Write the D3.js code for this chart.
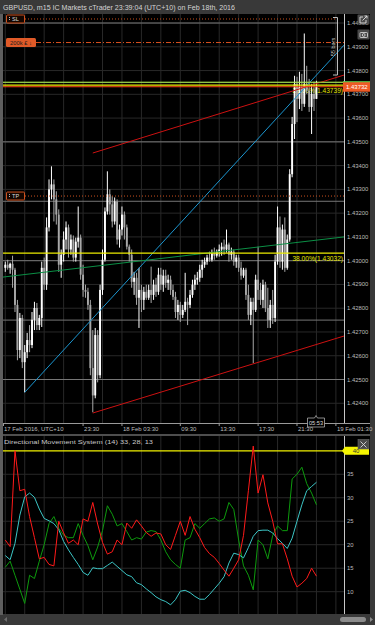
<!DOCTYPE html>
<html>
<head>
<meta charset="utf-8">
<script src="https://cdn.jsdelivr.net/npm/d3@7/dist/d3.min.js"></script>
<style>
  html, body { margin: 0; padding: 0; background: #393939; }
  svg { display: block; }
  text { font-family: "Liberation Sans", Arial, sans-serif; }
</style>
</head>
<body>
<svg width="375" height="625"></svg>
<script>
// ---- values (15 min bars from 17 Feb 15:30) ----
const open = [
  1.42970,1.42983,1.42970,1.42987,1.42962,1.42814,1.42624,1.42759,1.42573,1.42615,
  1.42666,1.42645,1.42751,1.42801,1.42729,1.42759,1.42970,1.42899,1.43140,1.43300,
  1.43321,1.43258,1.43194,1.42983,1.43025,1.43089,1.43140,1.43047,1.43089,1.43013,
  1.43080,1.43097,1.42941,1.42877,1.42869,1.42814,1.42548,1.42433,1.42687,1.42518,
  1.42877,1.43004,1.43207,1.43279,1.43237,1.43165,1.43249,1.43089,1.43131,1.43194,
  1.43140,1.43059,1.43025,1.42911,1.42928,1.42844,1.42877,1.42835,1.42869,1.42844,
  1.42877,1.42856,1.42899,1.42869,1.42941,1.42899,1.42937,1.42907,1.42920,1.42877,
  1.42848,1.42784,1.42814,1.42772,1.42793,1.42827,1.42814,1.42856,1.42899,1.42920,
  1.42928,1.42962,1.42983,1.42996,1.43013,1.43004,1.43030,1.43021,1.43038,1.43047,
  1.43059,1.43047,1.43068,1.43025,1.43038,1.42996,1.43013,1.42970,1.42937,1.42962,
  1.42856,1.42772,1.42827,1.42793,1.42920,1.42877,1.42835,1.42899,1.42801,1.42751,
  1.42814,1.42759,1.42996,1.43140,1.42996,1.43131,1.42970,1.43089,1.43364,1.43575,
  1.43744,1.43681,1.43731,1.43660,1.43744,1.43715,1.43647,1.43702,1.43681];
const high = [
  1.42996,1.43004,1.42992,1.43021,1.42970,1.42835,1.42780,1.42772,1.42645,1.42696,
  1.42729,1.42784,1.42827,1.42822,1.42772,1.42996,1.43013,1.43182,1.43342,1.43397,
  1.43342,1.43292,1.43216,1.43047,1.43123,1.43165,1.43152,1.43110,1.43106,1.43097,
  1.43228,1.43110,1.42983,1.42899,1.42886,1.42835,1.42708,1.42717,1.42708,1.42899,
  1.43047,1.43224,1.43376,1.43300,1.43271,1.43266,1.43258,1.43152,1.43228,1.43207,
  1.43152,1.43068,1.43047,1.42953,1.42949,1.42970,1.42899,1.42890,1.42899,1.42899,
  1.42975,1.42920,1.42928,1.42970,1.42970,1.42962,1.42962,1.42941,1.42937,1.42899,
  1.42869,1.42835,1.42827,1.42814,1.42949,1.42844,1.42877,1.42920,1.42941,1.42953,
  1.42983,1.43004,1.43013,1.43025,1.43038,1.43047,1.43055,1.43047,1.43068,1.43076,
  1.43089,1.43131,1.43076,1.43055,1.43047,1.43025,1.43025,1.42996,1.42970,1.42970,
  1.42899,1.42844,1.42844,1.42941,1.43059,1.42907,1.42920,1.42911,1.42886,1.42835,
  1.42877,1.43025,1.43228,1.43186,1.43152,1.43182,1.43110,1.43385,1.43605,1.43778,
  1.43774,1.43795,1.43786,1.43956,1.43820,1.43765,1.43744,1.43753,1.43757];
const low = [
  1.42953,1.42962,1.42945,1.42886,1.42784,1.42581,1.42590,1.42548,1.42446,1.42590,
  1.42615,1.42632,1.42708,1.42708,1.42708,1.42721,1.42877,1.42877,1.43123,1.43258,
  1.43165,1.43152,1.42953,1.42928,1.42996,1.43047,1.43013,1.43025,1.42996,1.42996,
  1.43055,1.42920,1.42848,1.42844,1.42793,1.42518,1.42362,1.42421,1.42488,1.42505,
  1.42856,1.42996,1.43194,1.43194,1.43140,1.43152,1.43068,1.43055,1.43106,1.43089,
  1.43047,1.42996,1.42886,1.42856,1.42814,1.42717,1.42784,1.42793,1.42835,1.42835,
  1.42822,1.42835,1.42848,1.42856,1.42877,1.42869,1.42886,1.42877,1.42856,1.42835,
  1.42759,1.42751,1.42742,1.42759,1.42784,1.42729,1.42801,1.42844,1.42877,1.42899,
  1.42911,1.42928,1.42970,1.42983,1.42996,1.42996,1.43004,1.43013,1.43017,1.43021,
  1.43025,1.43034,1.42996,1.43004,1.42979,1.42970,1.42953,1.42920,1.42928,1.42835,
  1.42751,1.42729,1.42569,1.42784,1.42835,1.42814,1.42801,1.42784,1.42717,1.42717,
  1.42734,1.42742,1.42983,1.42970,1.42962,1.42953,1.42962,1.43080,1.43351,1.43512,
  1.43583,1.43638,1.43630,1.43647,1.43702,1.43626,1.43533,1.43630,1.43681];
const close = [
  1.42983,1.42970,1.42987,1.42962,1.42814,1.42624,1.42759,1.42573,1.42615,1.42666,
  1.42645,1.42751,1.42801,1.42729,1.42759,1.42970,1.42899,1.43140,1.43300,1.43321,
  1.43258,1.43194,1.42983,1.43025,1.43089,1.43140,1.43047,1.43089,1.43013,1.43080,
  1.43097,1.42941,1.42877,1.42869,1.42814,1.42548,1.42433,1.42687,1.42518,1.42877,
  1.43004,1.43207,1.43279,1.43237,1.43165,1.43249,1.43089,1.43131,1.43194,1.43140,
  1.43059,1.43025,1.42911,1.42928,1.42844,1.42877,1.42835,1.42869,1.42844,1.42877,
  1.42856,1.42899,1.42869,1.42941,1.42899,1.42937,1.42907,1.42920,1.42877,1.42848,
  1.42784,1.42814,1.42772,1.42793,1.42827,1.42814,1.42856,1.42899,1.42920,1.42928,
  1.42962,1.42983,1.42996,1.43013,1.43004,1.43030,1.43021,1.43038,1.43047,1.43059,
  1.43047,1.43068,1.43025,1.43038,1.42996,1.43013,1.42970,1.42937,1.42962,1.42856,
  1.42772,1.42827,1.42793,1.42920,1.42877,1.42835,1.42899,1.42801,1.42751,1.42814,
  1.42759,1.42996,1.43140,1.42996,1.43131,1.42970,1.43089,1.43364,1.43575,1.43744,
  1.43681,1.43731,1.43660,1.43744,1.43715,1.43647,1.43702,1.43681,1.43732];

// Directional Movement System (14), one reading every second bar
const adx = [17.7,16.8,20.3,26.3,30.2,31,30.1,27.6,25.6,25.1,24.5,23.2,20.7,18.9,17.3,15.8,14.1,13.5,15.1,14.9,
  14.9,15.6,16.3,15.4,14.5,13.6,13.2,11.9,11.5,10.6,9.8,8.9,8.3,7.9,7.2,8.3,10.1,10.3,9.8,9.0,
  8.4,8.4,9.4,10.6,11.8,13.2,16.1,18.2,17.9,17.2,19.4,21.8,23.0,23.1,23.1,22.5,21.3,20.3,19.2,21.4,
  25,28.5,31.5,32.4,33.3];
const diPlus = [15.2,16.5,13.5,10.5,7.5,13.5,12.8,16.5,20,24.5,26,23.5,22,21.5,21.5,24.5,22,19.8,16.8,19.5,
  23,28.3,26.5,24,24.5,22.8,21,21.5,21.2,22.7,23,22.8,21,18.5,16.8,15.8,15,21,21.5,24.5,
  23.5,24.5,25.5,25.7,25,25.5,29,27.5,21,15.5,13.5,10.4,21,20,17,22,24,23,23,34,
  35,36.5,33,31,28.5];
const diMinus = [21,19.6,40,31.5,31.8,26,21.5,17,17.3,15.8,15.5,25,22.5,20.3,21,20,25.5,25,29,24.4,
  20.5,18,18.5,21,20,24.6,23.5,25.3,24,22.6,21.8,22.5,22.3,20,19,22,25,22,26,23.3,
  21.5,19.4,18.1,17.3,16,14.6,13.3,15,16.8,22,31.5,41,31,34.9,28.9,25,20.2,20.2,17,13.3,
  11,11.8,12.8,15,13.3];

const priceTicks = [1.424,1.425,1.426,1.427,1.428,1.429,1.430,1.431,1.432,1.433,1.434,1.435,1.436,1.437,1.438,1.439,1.440];
const levelLines = [1.44, 1.4375, 1.435, 1.4325, 1.43, 1.4275, 1.425];
const dmsTicks = [10, 15, 20, 25, 30, 35];
const timeLabels = [
  {t: "2016-02-17T23:30", label: "23:30"},
  {t: "2016-02-18T03:30", label: "18 Feb 03:30"},
  {t: "2016-02-18T09:30", label: "09:30"},
  {t: "2016-02-18T13:30", label: "13:30"},
  {t: "2016-02-18T17:30", label: "17:30"},
  {t: "2016-02-18T21:30", label: "21:30"},
  {t: "2016-02-19T01:30", label: "19 Feb 01:30"}
];
const trendLines = [
  {id: "blue",   t1: "2016-02-17T17:30", p1: 1.42446, t2: "2016-02-19T02:20", p2: 1.43907},
  {id: "redTop", t1: "2016-02-18T00:30", p1: 1.43453, t2: "2016-02-19T02:20", p2: 1.43781},
  {id: "redLow", t1: "2016-02-18T00:30", p1: 1.42359, t2: "2016-02-19T02:20", p2: 1.42683},
  {id: "green",  t1: "2016-02-17T15:16", p1: 1.42931, t2: "2016-02-19T02:20", p2: 1.43100}
];
const fibLevels = [{pct: "23.60%", price: 1.43739}, {pct: "38.00%", price: 1.43032}];
const stopLoss = 1.44017, takeProfit = 1.43272, orderPrice = 1.43918;
const ask = 1.43751, bid = 1.43732, dmsLevel = 40;

const trendColor = {blue: "#1b95cf", redTop: "#cc1111", redLow: "#cc1111", green: "#0b8f45"};

// ---- setup ----
const svg = d3.select("svg");
const parse = d3.utcParse("%Y-%m-%dT%H:%M");
const firstBar = parse("2016-02-17T15:30").getTime();
const barMs = 15 * 60 * 1000;
const bars = close.map((c, i) => ({t: new Date(firstBar + i * barMs), o: open[i], h: high[i], l: low[i], c}));

const x = d3.scaleUtc().domain([parse("2016-02-17T15:16"), parse("2016-02-19T02:20")]).range([3, 344]);
const y = d3.scaleLinear().domain([1.42317, 1.44038]).range([423, 14]);
const yD = d3.scaleLinear().domain([5.25, 43.15]).range([614, 436]);
const gridTimes = d3.range(18).map(k => new Date(firstBar + k * 8 * barMs));

svg.append("rect").attr("width", 375).attr("height", 625).attr("fill", "#393939");
svg.append("rect").attr("x", 0).attr("y", 14).attr("width", 3).attr("height", 601).attr("fill", "#5e5e5e");
svg.append("rect").attr("x", 3).attr("y", 14).attr("width", 367).attr("height", 420).attr("fill", "#000");
svg.append("rect").attr("x", 3).attr("y", 436).attr("width", 367).attr("height", 178).attr("fill", "#000");

svg.append("text").attr("x", 3).attr("y", 9.5).attr("font-size", 6.6).attr("fill", "#d4d4d4")
  .attr("textLength", 232).attr("lengthAdjust", "spacingAndGlyphs")
  .text("GBPUSD, m15 IC Markets cTrader 23:39:04 (UTC+10) on Feb 18th, 2016");

const defs = svg.append("defs");
defs.append("clipPath").attr("id", "clipMain").append("rect").attr("x", 3).attr("y", 14).attr("width", 341).attr("height", 409);
defs.append("clipPath").attr("id", "clipDms").append("rect").attr("x", 3).attr("y", 436).attr("width", 341).attr("height", 178);

// ---- main price panel ----
const gM = svg.append("g").attr("clip-path", "url(#clipMain)");

gM.selectAll("line.vgrid").data(gridTimes).join("line")
  .attr("x1", d => x(d)).attr("x2", d => x(d)).attr("y1", 14).attr("y2", 423)
  .attr("stroke", "#282828").attr("stroke-width", 1);
gM.selectAll("line.hgrid").data(priceTicks).join("line")
  .attr("x1", 3).attr("x2", 344).attr("y1", d => y(d)).attr("y2", d => y(d))
  .attr("stroke", "#282828").attr("stroke-width", 1);
gM.selectAll("line.level").data(levelLines).join("line")
  .attr("x1", 3).attr("x2", d => d === 1.44 ? 337 : 344).attr("y1", d => y(d)).attr("y2", d => y(d))
  .attr("stroke", "#767676").attr("stroke-width", 1);

// fib labels (candles paint over them)
gM.selectAll("text.fib").data(fibLevels).join("text")
  .attr("x", 343).attr("y", d => y(d.price) + 7.5).attr("text-anchor", "end")
  .attr("font-size", 6.6).attr("fill", "#e6e600")
  .text(d => `${d.pct}(${d.price.toFixed(5)})`);

// candles
const upCol = "#ffffff", downCol = "#a8a8a8";
gM.selectAll("line.wick").data(bars).join("line")
  .attr("x1", d => x(d.t)).attr("x2", d => x(d.t))
  .attr("y1", d => y(d.h)).attr("y2", d => y(d.l))
  .attr("stroke", d => d.c >= d.o ? upCol : downCol).attr("stroke-width", 1);
gM.selectAll("rect.body").data(bars).join("rect")
  .attr("x", d => x(d.t) - 0.95).attr("width", 1.9)
  .attr("y", d => y(Math.max(d.o, d.c)))
  .attr("height", d => Math.max(1, Math.abs(y(d.o) - y(d.c))))
  .attr("fill", d => d.c >= d.o ? upCol : downCol);

// trend lines
gM.selectAll("line.trend").data(trendLines).join("line")
  .attr("x1", d => x(parse(d.t1))).attr("y1", d => y(d.p1))
  .attr("x2", d => x(parse(d.t2))).attr("y2", d => y(d.p2))
  .attr("stroke", d => trendColor[d.id]).attr("stroke-width", 1);

// fibonacci, bid/ask lines
gM.selectAll("line.fibl").data(fibLevels).join("line")
  .attr("x1", 3).attr("x2", 344).attr("y1", d => y(d.price)).attr("y2", d => y(d.price))
  .attr("stroke", "#ecec00").attr("stroke-width", 1.2);
gM.append("line").attr("x1", 3).attr("x2", 344).attr("y1", y(ask)).attr("y2", y(ask))
  .attr("stroke", "#9fe83a").attr("stroke-width", 1);
gM.append("line").attr("x1", 3).attr("x2", 344).attr("y1", y(bid)).attr("y2", y(bid))
  .attr("stroke", "#ff4a1a").attr("stroke-width", 1);

// SL / TP / order lines
gM.append("line").attr("x1", 25).attr("x2", 337).attr("y1", y(stopLoss)).attr("y2", y(stopLoss))
  .attr("stroke", "#c8501e").attr("stroke-dasharray", "1,2");
gM.append("line").attr("x1", 25).attr("x2", 344).attr("y1", y(takeProfit)).attr("y2", y(takeProfit))
  .attr("stroke", "#c8501e").attr("stroke-dasharray", "1,2");
gM.append("line").attr("x1", 36).attr("x2", 344).attr("y1", y(orderPrice)).attr("y2", y(orderPrice))
  .attr("stroke", "#d8501e").attr("stroke-dasharray", "5,2,1,2");

[["SL", stopLoss], ["TP", takeProfit]].forEach(([lab, p]) => {
  const cy = y(p);
  svg.append("rect").attr("x", 6.5).attr("y", cy - 4).attr("width", 18).attr("height", 8)
    .attr("fill", "#140600").attr("stroke", "#cf521f").attr("rx", 1);
  svg.append("line").attr("x1", 9.5).attr("x2", 9.5).attr("y1", cy - 2).attr("y2", cy + 2)
    .attr("stroke", "#bbb").attr("stroke-dasharray", "1,1");
  svg.append("text").attr("x", 12).attr("y", cy + 2.2).attr("font-size", 5.6).attr("fill", "#dcdcdc").text(lab);
});
svg.append("rect").attr("x", 6).attr("y", y(orderPrice) - 4.5).attr("width", 30).attr("height", 9)
  .attr("rx", 1.5).attr("fill", "#e05a28");
svg.append("text").attr("x", 10).attr("y", y(orderPrice) + 2.2).attr("font-size", 5.8).attr("fill", "#1c1c1c")
  .text("200k £ ↓");

// "55 bars" bracket
svg.append("path").attr("d", "M333,17.5H337.5V75H333").attr("fill", "none").attr("stroke", "#bdbdbd");
svg.append("text").attr("transform", "translate(334.5,47) rotate(-90)").attr("text-anchor", "middle")
  .attr("font-size", 5.6).attr("fill", "#cfcfcf").text("55 bars");

// axis separators
svg.append("line").attr("x1", 344.5).attr("x2", 344.5).attr("y1", 14).attr("y2", 423).attr("stroke", "#c8c8c8");
svg.append("line").attr("x1", 3).attr("x2", 370).attr("y1", 423.5).attr("y2", 423.5).attr("stroke", "#9a9a9a");

// right price axis
svg.selectAll("text.ptick").data(priceTicks).join("text")
  .attr("x", 347).attr("y", d => y(d) + 2).attr("font-size", 5.9).attr("fill", "#bcbcbc")
  .text(d => d.toFixed(5));

// current price label
svg.append("rect").attr("x", 343).attr("y", y(bid) - 5).attr("width", 27).attr("height", 10).attr("fill", "#ee5a24");
svg.append("line").attr("x1", 343).attr("x2", 370).attr("y1", y(bid) - 5).attr("y2", y(bid) - 5).attr("stroke", "#4fd04f");
svg.append("text").attr("x", 346).attr("y", y(bid) + 2.2).attr("font-size", 6).attr("fill", "#fff").text(bid.toFixed(5));

// top right buttons
svg.append("rect").attr("x", 357.5).attr("y", 14.5).attr("width", 12).attr("height", 10).attr("rx", 1).attr("fill", "#4a4a4a");
svg.append("path").attr("d", "M363,17H360V23H366V20M362.5,20.5L367,16M364.5,16H367V18.5")
  .attr("fill", "none").attr("stroke", "#e0e0e0").attr("stroke-width", 0.9);
svg.append("rect").attr("x", 357.5).attr("y", 29.5).attr("width", 12).attr("height", 10).attr("rx", 1).attr("fill", "#4a4a4a");
svg.append("rect").attr("x", 360).attr("y", 32.5).attr("width", 7.5).attr("height", 5).attr("rx", 0.8)
  .attr("fill", "none").attr("stroke", "#e0e0e0").attr("stroke-width", 0.8);
svg.append("circle").attr("cx", 363.7).attr("cy", 35).attr("r", 1.4).attr("fill", "none").attr("stroke", "#e0e0e0").attr("stroke-width", 0.8);

// time axis
svg.append("text").attr("x", 4).attr("y", 431).attr("font-size", 6).attr("fill", "#bcbcbc").text("17 Feb 2016, UTC+10");
svg.append("line").attr("x1", 3.5).attr("x2", 3.5).attr("y1", 423).attr("y2", 426).attr("stroke", "#9a9a9a");
timeLabels.forEach(d => {
  const tx = x(parse(d.t));
  svg.append("line").attr("x1", tx).attr("x2", tx).attr("y1", 423).attr("y2", 426).attr("stroke", "#9a9a9a");
  svg.append("text").attr("x", tx + 1).attr("y", 431).attr("font-size", 6).attr("fill", "#bcbcbc").text(d.label);
});
// bar countdown box
svg.append("path").attr("d", "M307.5,418H314.5L316,415.5L317.5,418H324.5V427H307.5Z")
  .attr("fill", "#000").attr("stroke", "#aaa").attr("stroke-width", 0.8);
svg.append("text").attr("x", 316).attr("y", 425).attr("text-anchor", "middle").attr("font-size", 5.6)
  .attr("fill", "#dcdcdc").text("05:53");

svg.append("rect").attr("x", 3).attr("y", 434).attr("width", 367).attr("height", 2).attr("fill", "#4e4e4e");

// ---- DMS panel ----
const gD = svg.append("g").attr("clip-path", "url(#clipDms)");
gD.selectAll("line.vgrid").data(gridTimes).join("line")
  .attr("x1", d => x(d)).attr("x2", d => x(d)).attr("y1", 436).attr("y2", 614)
  .attr("stroke", "#282828");
gD.selectAll("line.hgrid").data(dmsTicks).join("line")
  .attr("x1", 3).attr("x2", 344).attr("y1", d => yD(d)).attr("y2", d => yD(d))
  .attr("stroke", "#282828");
gD.append("line").attr("x1", 3).attr("x2", 344).attr("y1", yD(dmsLevel)).attr("y2", yD(dmsLevel))
  .attr("stroke", "#f2f200").attr("stroke-width", 1.2);

const dmsTime = i => new Date(firstBar + i * 2 * barMs);
const dmsLine = d3.line().x((d, i) => x(dmsTime(i))).y(d => yD(d));
[[diPlus, "#0d9a0d"], [adx, "#3cc6c6"], [diMinus, "#ff1a1a"]].forEach(([vals, col]) => {
  gD.append("path").datum(vals).attr("d", dmsLine).attr("fill", "none")
    .attr("stroke", col).attr("stroke-width", 1);
});

svg.append("text").attr("x", 4).attr("y", 443.5).attr("font-size", 6.2).attr("fill", "#c8c8c8")
  .attr("textLength", 149).attr("lengthAdjust", "spacingAndGlyphs")
  .text("Directional Movement System (14) 33, 28, 13");
svg.append("line").attr("x1", 344.5).attr("x2", 344.5).attr("y1", 436).attr("y2", 614).attr("stroke", "#c8c8c8");
svg.selectAll("text.dtick").data(dmsTicks).join("text")
  .attr("x", 347).attr("y", d => yD(d) + 2).attr("font-size", 5.9).attr("fill", "#bcbcbc").text(d => d);

svg.append("path").attr("d", `M342,${yD(dmsLevel)}L345,${yD(dmsLevel) - 4}H369V${yD(dmsLevel) + 4}H345Z`)
  .attr("fill", "#f4f400");
svg.append("text").attr("x", 356).attr("y", yD(dmsLevel) + 2.2).attr("text-anchor", "middle")
  .attr("font-size", 6).attr("fill", "#333").text(dmsLevel);

svg.append("rect").attr("x", 358).attr("y", 439.5).attr("width", 11).attr("height", 9.5)
  .attr("fill", "#4a4a4a").attr("stroke", "#6a6a6a").attr("stroke-width", 0.6);
svg.append("path").attr("d", "M360.5,441.5L366.5,447.5M366.5,441.5L360.5,447.5")
  .attr("stroke", "#d8d8d8").attr("stroke-width", 0.9);

// scrollbar
svg.append("rect").attr("x", 340).attr("y", 617).attr("width", 26).attr("height", 5).attr("rx", 2.5).attr("fill", "#8c8c8c");
svg.append("path").attr("d", "M370,617L373,619.5L370,622Z").attr("fill", "#8c8c8c");
svg.append("path").attr("d", "M7,617L4,619.5L7,622Z").attr("fill", "#6c6c6c");
</script>
</body>
</html>
